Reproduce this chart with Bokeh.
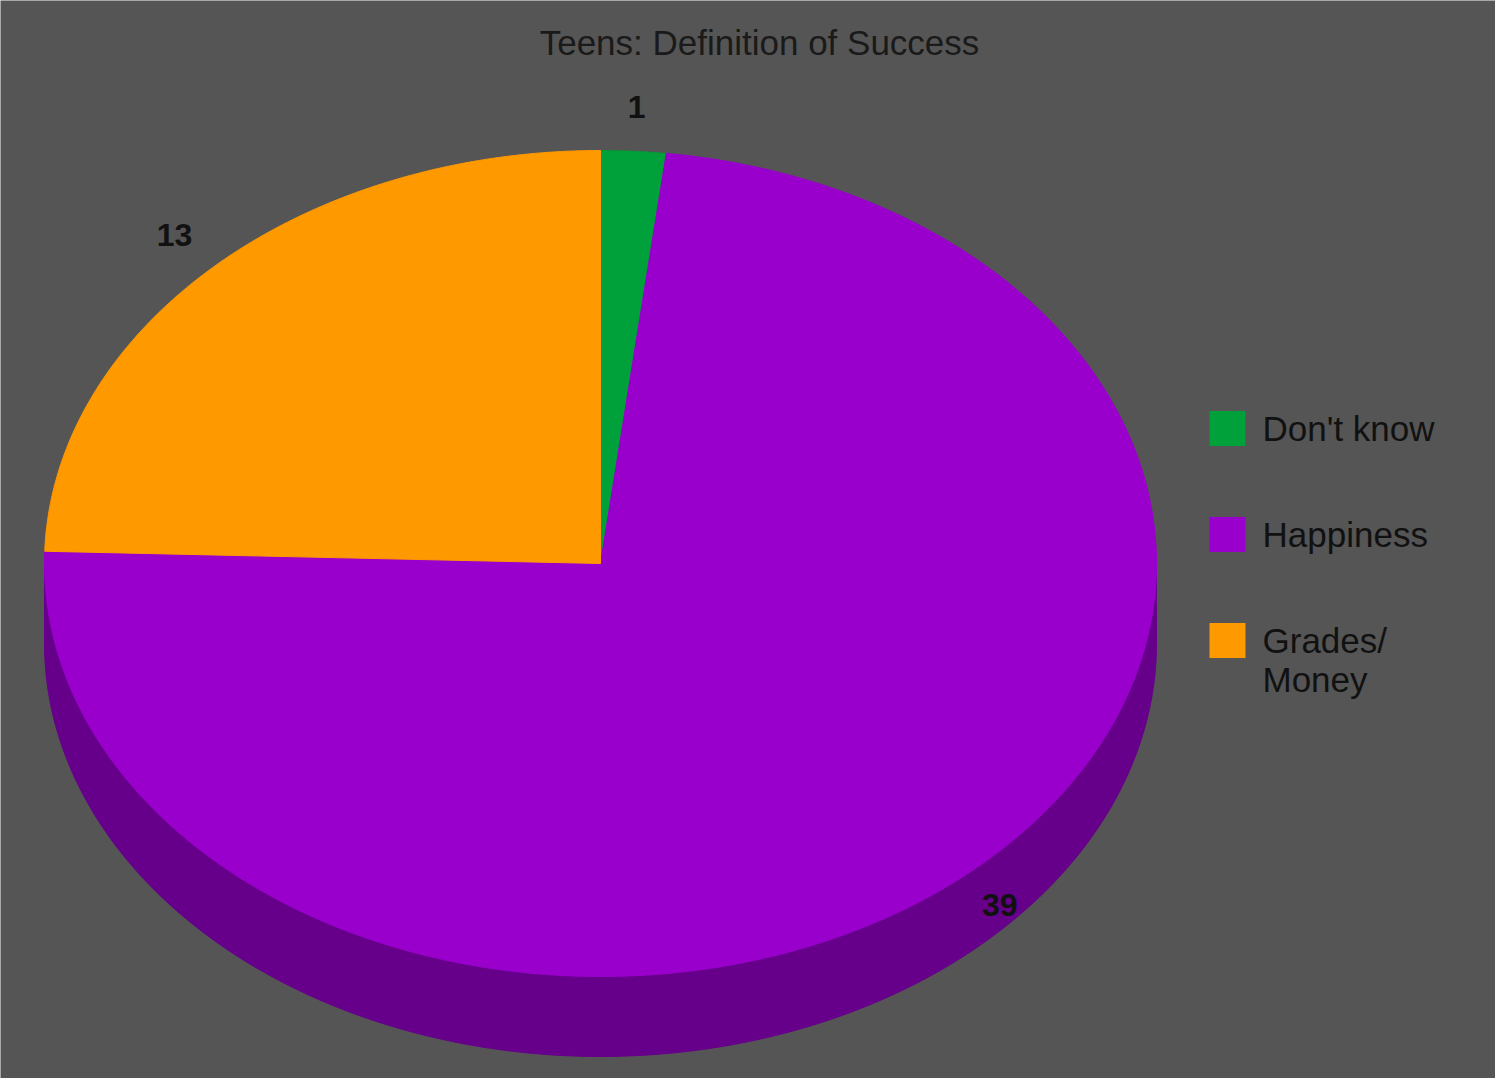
import numpy as np
from bokeh.plotting import figure
from bokeh.models import Range1d
from bokeh.embed import file_html
from bokeh.resources import INLINE
from bokeh.core.properties import value

# ---- data ----
chart_title = "Teens: Definition of Success"
categories = ["Don't know", "Happiness", "Grades/\nMoney"]
counts = [1, 39, 13]
top_colors = ["#00a03a", "#9900cc", "#ff9900"]
side_colors = ["#006b27", "#66008a", "#a86400"]

FONT = value("Liberation Sans")
W, H = 1495, 1078
p = figure(width=W, height=H, x_range=Range1d(0, W), y_range=Range1d(H, 0),
           output_backend="svg", toolbar_location=None, min_border=0,
           background_fill_color="#555555", border_fill_color="#555555",
           outline_line_color=None)
p.axis.visible = False
p.grid.visible = False

# pie geometry (screen coords, y down)
cx, cy, rx, ry, depth = 600, 563, 556, 413, 80
total = float(sum(counts))
fr = np.array(counts) / total
ends = np.cumsum(fr) * 2 * np.pi
starts = ends - fr * 2 * np.pi

def ex(t):
    return cx + rx * np.sin(t)

def ey(t):
    return cy - ry * np.cos(t)

# side walls (front half: t in [pi/2, 3pi/2])
sx, sy, sc = [], [], []
for a0, a1, c in zip(starts, ends, side_colors):
    s, e = max(a0, np.pi / 2), min(a1, 3 * np.pi / 2)
    if e <= s:
        continue
    t = np.linspace(s, e, 200)
    xs = np.concatenate([ex(t), ex(t[::-1])])
    ys = np.concatenate([ey(t), ey(t[::-1]) + depth])
    sx.append(list(xs)); sy.append(list(ys)); sc.append(c)
p.patches(sx, sy, fill_color=sc, line_color=sc, line_width=1)

# top slices
px, py = [], []
for a0, a1 in zip(starts, ends):
    t = np.linspace(a0, a1, 300)
    px.append([cx] + list(ex(t)))
    py.append([cy] + list(ey(t)))
p.patches(px, py, fill_color=top_colors, line_color=top_colors, line_width=1)

# value labels
mid = (starts + ends) / 2
k = 1.1
lx = cx + rx * k * np.sin(mid)
ly = cy - ry * k * np.cos(mid) - 3
p.text(x=list(lx), y=list(ly), text=[str(c) for c in counts],
       text_font=FONT, text_font_style="bold", text_font_size="32px",
       text_color="#111111", text_align="center", text_baseline="middle")

# title
p.text(x=[759], y=[42], text=[chart_title], text_font=FONT,
       text_font_size="35px", text_color="#1a1a1a",
       text_align="center", text_baseline="middle")

# legend
leg_x, leg_y0, leg_step = 1227, 428, 106
p.rect(x=[leg_x] * len(categories),
       y=[leg_y0 + i * leg_step for i in range(len(categories))],
       width=36, height=35, fill_color=top_colors, line_color=None)
tx, ty, tt = [], [], []
for i, lab in enumerate(categories):
    for j, line in enumerate(lab.split("\n")):
        tx.append(leg_x + 35)
        ty.append(leg_y0 + i * leg_step + j * 39)
        tt.append(line)
p.text(x=tx, y=ty, text=tt, text_font=FONT, text_font_size="35px",
       text_color="#111111", text_align="left", text_baseline="middle")

open("out.html", "w").write(file_html(p, INLINE))
